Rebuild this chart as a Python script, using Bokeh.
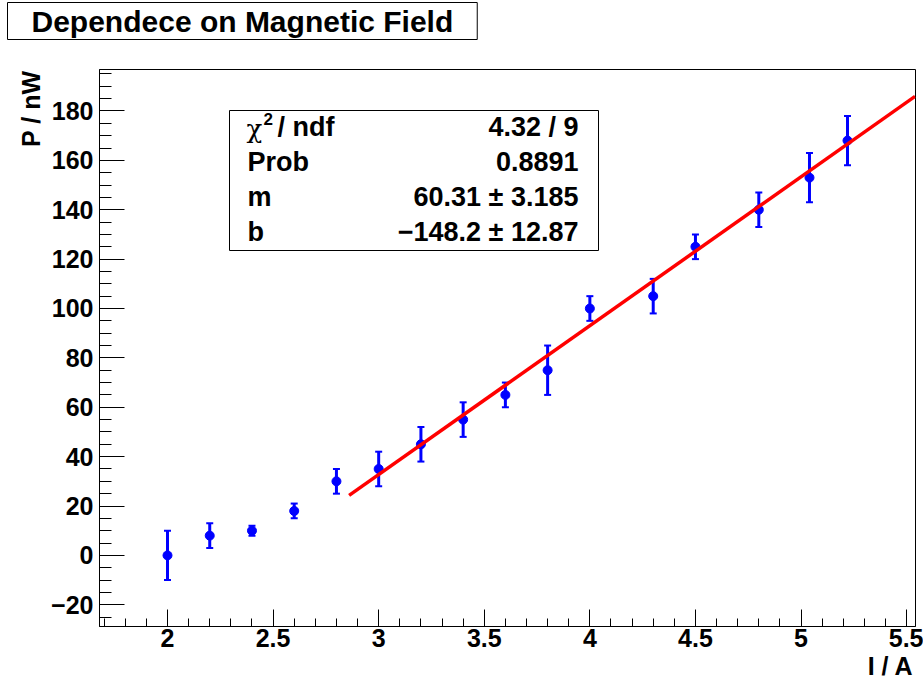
import numpy as np
from bokeh.plotting import figure
from bokeh.models import (ColumnDataSource, Whisker, TeeHead, Label, BoxAnnotation,
                          FixedTicker, CustomJSTickFormatter, Range1d, Title)
from bokeh.embed import file_html
from bokeh.resources import INLINE

# ---------------- data ----------------
current = [2.0, 2.2, 2.4, 2.6, 2.8, 3.0, 3.2, 3.4, 3.6, 3.8, 4.0, 4.3, 4.5, 4.8, 5.04, 5.22]
power = [0, 8, 10, 18, 30, 35, 45, 55, 65, 75, 100, 105, 125, 140, 153, 168]
power_err = [10, 5, 2, 3, 5, 7, 7, 7, 5, 10, 5, 7, 5, 7, 10, 10]

fit_slope = 60.31
fit_intercept = -148.2
fit_range = [2.86, 5.54]

x_ticks = [2, 2.5, 3, 3.5, 4, 4.5, 5, 5.5]
y_ticks = [-20, 0, 20, 40, 60, 80, 100, 120, 140, 160, 180]

title_text = "Dependece on Magnetic Field"
x_label = "I / A"
y_label = "P / nW"
stats_names = ["Prob", "m", "b"]
stats_values = ["4.32 / 9", "0.8891", "60.31 \u00b1 3.185", "\u2212148.2 \u00b1 12.87"]

# ---------------- layout ----------------
FONT = "Liberation Sans"
W, H = 923, 684
FL, FR, FT, FB = 99, 915, 69, 626   # frame edges in page pixels


def sx(px):
    return px - FL


def sy(py):
    return FB - py


p = figure(width=W, height=H,
           x_range=Range1d(1.678, 5.542), y_range=Range1d(-28.8, 196.8),
           output_backend="svg", toolbar_location=None,
           min_border_left=FL, min_border_right=W - FR,
           min_border_top=FT, min_border_bottom=H - FB)
# spacer between frame and title box
p.add_layout(Title(text=" ", text_font_size="1px", standoff=27, text_color="white"), "above")
p.title = Title(text=title_text, align="left", offset=7 - FL, standoff=0,
                text_font=FONT, text_font_style="bold", text_font_size="30px",
                text_color="black", background_fill_color="white",
                border_line_color="black", border_line_width=1,
                padding=dict(left=24, right=24, top=2, bottom=2))
p.add_layout(Title(text=y_label, align="right", offset=1, standoff=7,
                   text_font=FONT, text_font_style="bold", text_font_size="25px",
                   text_color="black"), "left")
p.add_layout(Title(text=x_label, align="right", offset=2, standoff=0,
                   text_font=FONT, text_font_style="bold", text_font_size="25px",
                   text_color="black"), "below")

p.xgrid.visible = False
p.ygrid.visible = False
p.outline_line_color = "black"
p.outline_line_width = 1
p.background_fill_color = "white"
p.border_fill_color = "white"

x_minor = [round(v, 2) for v in np.arange(1.7, 5.55, 0.1)]
y_minor = list(range(-25, 200, 5))
p.xaxis.ticker = FixedTicker(ticks=x_ticks, minor_ticks=x_minor)
p.yaxis.ticker = FixedTicker(ticks=y_ticks, minor_ticks=y_minor)
fmt_code = 'return (tick < 0 ? "\u2212" : "") + String(Math.abs(Math.round(tick*100)/100));'
p.xaxis.formatter = CustomJSTickFormatter(code=fmt_code)
p.yaxis.formatter = CustomJSTickFormatter(code=fmt_code)

for ax in (p.xaxis[0], p.yaxis[0]):
    ax.axis_line_color = "black"
    ax.axis_line_width = 1
    ax.major_tick_line_color = "black"
    ax.minor_tick_line_color = "black"
    ax.major_tick_out = 0
    ax.minor_tick_out = 0
    ax.major_label_text_font = FONT
    ax.major_label_text_font_style = "bold"
    ax.major_label_text_font_size = "25px"
    ax.major_label_text_color = "black"

p.xaxis.major_label_standoff = 2
p.yaxis.major_label_standoff = 6
p.xaxis.major_tick_in = 17
p.xaxis.minor_tick_in = 8
p.yaxis.major_tick_in = 25
p.yaxis.minor_tick_in = 12

# ---------------- data marks ----------------
src = ColumnDataSource(dict(
    x=current, y=power,
    lower=[v - e for v, e in zip(power, power_err)],
    upper=[v + e for v, e in zip(power, power_err)],
))
whisk = Whisker(base="x", upper="upper", lower="lower", source=src,
                line_color="blue", line_width=3,
                upper_head=TeeHead(size=7, line_color="blue", line_width=2),
                lower_head=TeeHead(size=7, line_color="blue", line_width=2))
p.add_layout(whisk)
p.scatter("x", "y", source=src, size=9, color="blue")

fit_x = np.array(fit_range)
fit_y = fit_slope * fit_x + fit_intercept
p.line(fit_x, fit_y, line_color="red", line_width=3.5)

# ---------------- stats box ----------------
p.add_layout(BoxAnnotation(left=sx(229), right=sx(598), top=sy(110), bottom=sy(250),
                           left_units="screen", right_units="screen",
                           top_units="screen", bottom_units="screen",
                           fill_color="white", fill_alpha=1.0,
                           line_color="black", line_width=1, line_alpha=1.0))

rows_y = [127, 162, 197, 232]
common = dict(x_units="screen", y_units="screen", text_font=FONT,
              text_font_style="bold", text_font_size="27px", text_color="black",
              text_baseline="middle")
# chi^2 / ndf
p.add_layout(Label(x=sx(246), y=sy(rows_y[0]) - 1, text="\u03c7", x_units="screen", y_units="screen",
                   text_font="DejaVu Serif", text_font_size="26px", text_baseline="middle",
                   text_color="black"))
p.add_layout(Label(x=sx(263), y=sy(rows_y[0] - 9), text="2", text_align="left",
                   **{**common, "text_font_size": "17px"}))
p.add_layout(Label(x=sx(277), y=sy(rows_y[0]) + 1, text="/ ndf", text_align="left", **common))
for name, yy in zip(stats_names, rows_y[1:]):
    p.add_layout(Label(x=sx(247), y=sy(yy) + 1, text=name, text_align="left", **common))
for val, yy in zip(stats_values, rows_y):
    p.add_layout(Label(x=sx(578), y=sy(yy) + 1, text=val, text_align="right", **common))

with open("out.html", "w", encoding="utf-8") as f:
    f.write(file_html(p, INLINE))
